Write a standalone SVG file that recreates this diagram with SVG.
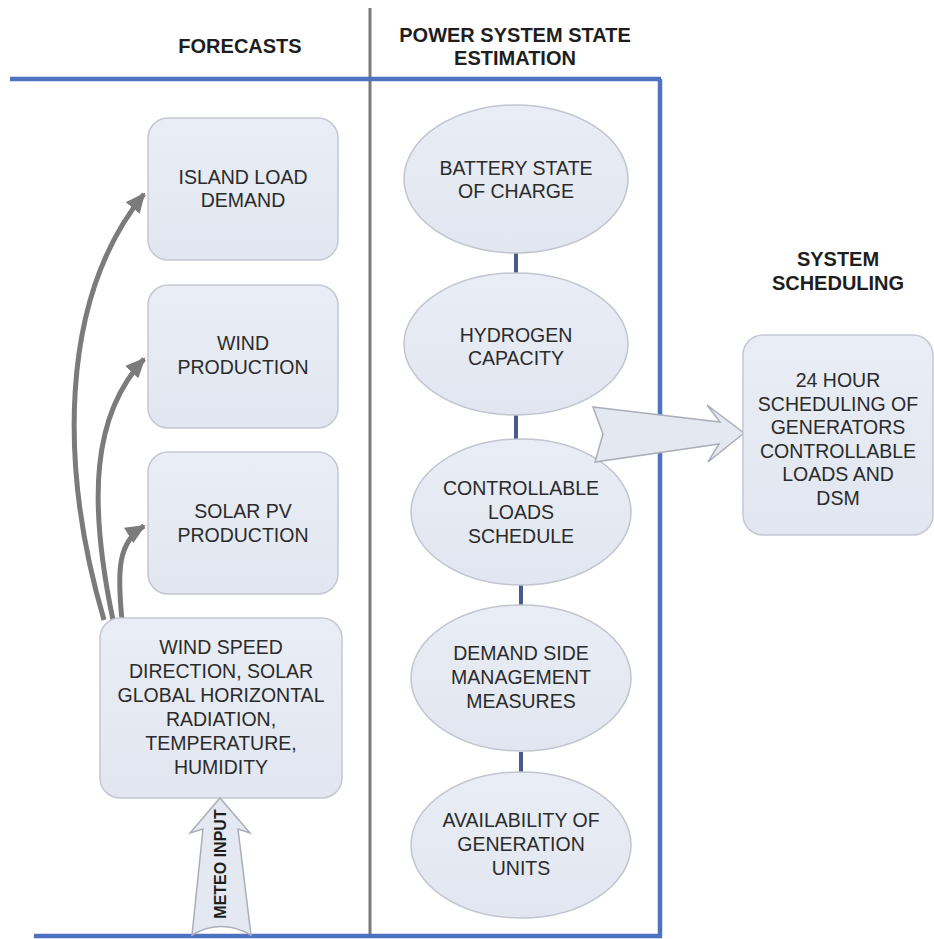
<svg xmlns="http://www.w3.org/2000/svg" width="934" height="939" viewBox="0 0 934 939">
  <defs>
    <linearGradient id="nodeFill" x1="0" y1="0" x2="0" y2="1">
      <stop offset="0" stop-color="#e9edf5"/>
      <stop offset="1" stop-color="#e1e6f0"/>
    </linearGradient>
    <marker id="grayHead" markerUnits="userSpaceOnUse" markerWidth="22" markerHeight="20" refX="18" refY="10" orient="auto">
      <path d="M0,1 L20,10 L0,19 Z" fill="#7b7b7b"/>
    </marker>
    <style>
      .box { fill: url(#nodeFill); stroke: #c3c8d2; stroke-width: 1.5; }
      .oval { fill: url(#nodeFill); stroke: #c0c5cf; stroke-width: 1.5; }
      .lbl { font-family: "Liberation Sans", Arial, sans-serif; font-size: 19.5px; fill: #2b2b2b; text-anchor: middle; }
      .hdr { font-family: "Liberation Sans", Arial, sans-serif; font-size: 20px; font-weight: bold; fill: #1e1e1e; text-anchor: middle; }
      .lane { fill: none; stroke: #4f72c0; stroke-width: 4.5; }
      .divider { fill: none; stroke: #7a7a7a; stroke-width: 3; }
      .flow { fill: none; stroke: #7b7b7b; stroke-width: 5; marker-end: url(#grayHead); }
      .link { stroke: #4b5a8c; stroke-width: 4; }
      .block { fill: #e3e8f1; stroke: #a9aeb9; stroke-width: 1.5; }
    </style>
  </defs>

  <rect width="934" height="939" fill="#ffffff"/>

  <!-- lane frame -->
  <g id="lanes">
    <line class="divider" x1="370" y1="8" x2="370" y2="937"/>
    <line class="lane" x1="10" y1="79" x2="661" y2="79"/>
    <line class="lane" x1="660" y1="79" x2="660" y2="936"/>
    <line class="lane" x1="34" y1="936" x2="662" y2="936"/>
  </g>

  <!-- column headings -->
  <g id="headings">
    <text class="hdr" x="240" y="53">FORECASTS</text>
    <text class="hdr" x="515" y="42">POWER SYSTEM STATE</text>
    <text class="hdr" x="515" y="65">ESTIMATION</text>
    <text class="hdr" x="838" y="266">SYSTEM</text>
    <text class="hdr" x="838" y="290">SCHEDULING</text>
  </g>

  <!-- connectors -->
  <g id="connectors">
    <path class="flow" d="M104,620 C60,470 58,300 144,194"/>
    <path class="flow" d="M113,620 C88,500 92,415 144,359"/>
    <path class="flow" d="M122,620 C117,570 118,542 144,526"/>
    <line class="link" x1="516" y1="253" x2="516" y2="273"/>
    <line class="link" x1="516" y1="415" x2="516" y2="440"/>
    <line class="link" x1="521" y1="585" x2="521" y2="605"/>
    <line class="link" x1="521" y1="752" x2="521" y2="773"/>
  </g>

  <!-- forecast nodes -->
  <g id="island-load">
    <rect class="box" x="148" y="118" width="190" height="142" rx="20"/>
    <text class="lbl" x="243" y="184">ISLAND LOAD</text>
    <text class="lbl" x="243" y="207">DEMAND</text>
  </g>
  <g id="wind-production">
    <rect class="box" x="148" y="285" width="190" height="143" rx="20"/>
    <text class="lbl" x="243" y="350">WIND</text>
    <text class="lbl" x="243" y="374">PRODUCTION</text>
  </g>
  <g id="solar-production">
    <rect class="box" x="148" y="452" width="190" height="142" rx="20"/>
    <text class="lbl" x="243" y="518">SOLAR PV</text>
    <text class="lbl" x="243" y="542">PRODUCTION</text>
  </g>
  <g id="meteo-data">
    <rect class="box" x="100" y="618" width="242" height="180" rx="20"/>
    <text class="lbl" x="221" y="654">WIND SPEED</text>
    <text class="lbl" x="221" y="678">DIRECTION, SOLAR</text>
    <text class="lbl" x="221" y="702">GLOBAL HORIZONTAL</text>
    <text class="lbl" x="221" y="726">RADIATION,</text>
    <text class="lbl" x="221" y="750">TEMPERATURE,</text>
    <text class="lbl" x="221" y="774">HUMIDITY</text>
  </g>
  <g id="meteo-input">
    <path class="block" d="M220,798 L250,833 L238,829 L251,935 Q221,918 192,935 L203,829 L190,833 Z"/>
    <text transform="translate(226,864) rotate(-90)" font-family="'Liberation Sans', Arial, sans-serif" font-size="16" font-weight="bold" fill="#1e1e1e" text-anchor="middle">METEO INPUT</text>
  </g>

  <!-- state estimation nodes -->
  <g id="battery">
    <ellipse class="oval" cx="516" cy="179" rx="112" ry="74"/>
    <text class="lbl" x="516" y="175">BATTERY STATE</text>
    <text class="lbl" x="516" y="198">OF CHARGE</text>
  </g>
  <g id="hydrogen">
    <ellipse class="oval" cx="516" cy="344" rx="112" ry="71"/>
    <text class="lbl" x="516" y="342">HYDROGEN</text>
    <text class="lbl" x="516" y="365">CAPACITY</text>
  </g>
  <g id="controllable-loads">
    <ellipse class="oval" cx="521" cy="512" rx="110" ry="73"/>
    <text class="lbl" x="521" y="495">CONTROLLABLE</text>
    <text class="lbl" x="521" y="519">LOADS</text>
    <text class="lbl" x="521" y="543">SCHEDULE</text>
  </g>
  <g id="demand-side">
    <ellipse class="oval" cx="521" cy="678" rx="110" ry="73"/>
    <text class="lbl" x="521" y="660">DEMAND SIDE</text>
    <text class="lbl" x="521" y="684">MANAGEMENT</text>
    <text class="lbl" x="521" y="708">MEASURES</text>
  </g>
  <g id="generation-units">
    <ellipse class="oval" cx="521" cy="845" rx="110" ry="73"/>
    <text class="lbl" x="521" y="827">AVAILABILITY OF</text>
    <text class="lbl" x="521" y="851">GENERATION</text>
    <text class="lbl" x="521" y="875">UNITS</text>
  </g>

  <!-- hand-off to scheduling -->
  <g id="to-scheduling">
    <path class="block" d="M593,407 L720,422 L707,405 L744,433 L708,462 L719,444 L595,462 L603,434 Z"/>
  </g>

  <!-- scheduling node -->
  <g id="scheduling">
    <rect class="box" x="743" y="335" width="190" height="200" rx="20"/>
    <text class="lbl" x="838" y="387">24 HOUR</text>
    <text class="lbl" x="838" y="411">SCHEDULING OF</text>
    <text class="lbl" x="838" y="434">GENERATORS</text>
    <text class="lbl" x="838" y="458">CONTROLLABLE</text>
    <text class="lbl" x="838" y="481">LOADS AND</text>
    <text class="lbl" x="838" y="505">DSM</text>
  </g>
</svg>
